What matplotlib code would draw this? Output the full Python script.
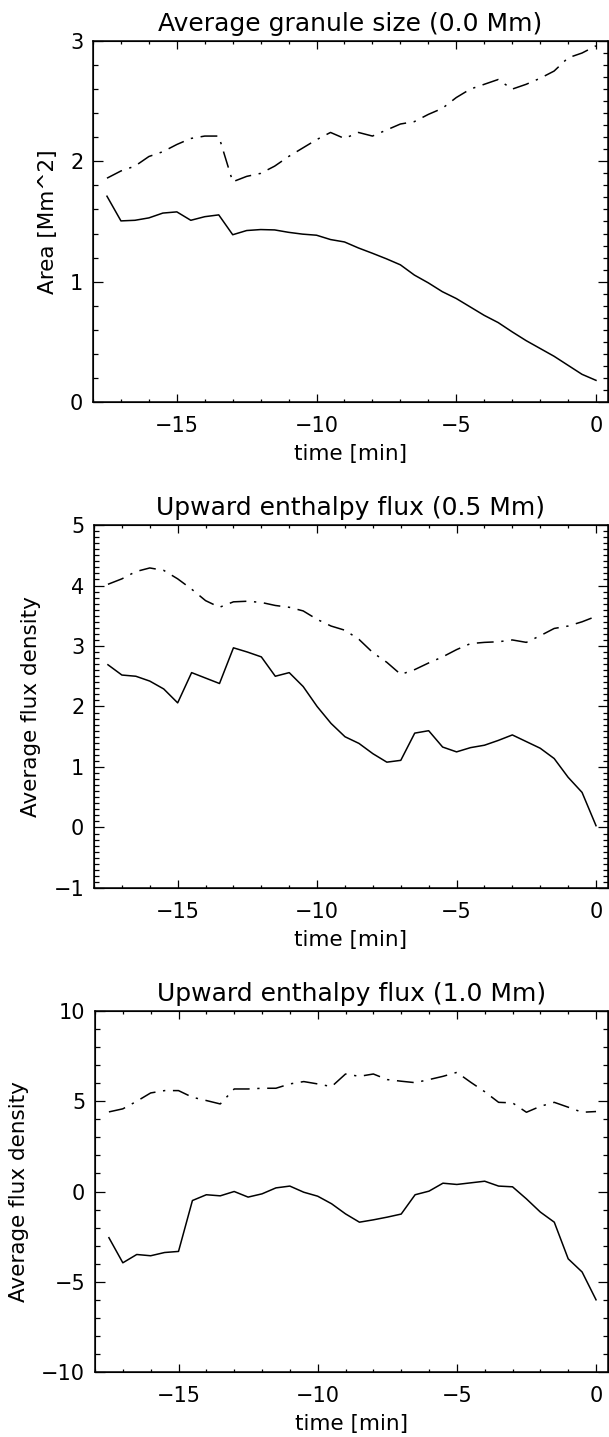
import matplotlib
matplotlib.use("Agg")
import matplotlib.pyplot as plt
from matplotlib.ticker import MultipleLocator

# time axis (minutes before the end)
time = [-17.5, -17.0, -16.5, -16.0, -15.5, -15.0, -14.5, -14.0, -13.5, -13.0,
        -12.5, -12.0, -11.5, -11.0, -10.5, -10.0, -9.5, -9.0, -8.5, -8.0,
        -7.5, -7.0, -6.5, -6.0, -5.5, -5.0, -4.5, -4.0, -3.5, -3.0,
        -2.5, -2.0, -1.5, -1.0, -0.5, 0.0]

# panel 1: average granule size
area_solid = [1.71, 1.505, 1.51, 1.53, 1.57, 1.58, 1.51, 1.54, 1.555, 1.39,
              1.425, 1.433, 1.43, 1.41, 1.395, 1.386, 1.35, 1.33, 1.28, 1.236,
              1.19, 1.14, 1.055, 0.99, 0.917, 0.86, 0.79, 0.72, 0.66, 0.583,
              0.51, 0.445, 0.38, 0.305, 0.23, 0.18]
area_dash = [1.86, 1.92, 1.96, 2.04, 2.08, 2.14, 2.19, 2.21, 2.21, 1.83,
             1.875, 1.90, 1.96, 2.04, 2.11, 2.18, 2.24, 2.19, 2.24, 2.21,
             2.26, 2.31, 2.33, 2.39, 2.44, 2.53, 2.60, 2.64, 2.68, 2.60,
             2.64, 2.69, 2.75, 2.86, 2.90, 2.96]

# panel 2: upward enthalpy flux at 0.5 Mm
flux05_solid = [2.69, 2.52, 2.50, 2.42, 2.29, 2.06, 2.56, 2.47, 2.38, 2.97,
                2.90, 2.82, 2.50, 2.56, 2.33, 2.00, 1.72, 1.50, 1.39, 1.22,
                1.08, 1.11, 1.56, 1.60, 1.33, 1.25, 1.32, 1.36, 1.44, 1.53,
                1.42, 1.31, 1.14, 0.83, 0.58, 0.03]
flux05_dash = [4.02, 4.11, 4.23, 4.29, 4.25, 4.11, 3.94, 3.75, 3.64, 3.73,
               3.74, 3.72, 3.67, 3.64, 3.58, 3.44, 3.33, 3.26, 3.11, 2.89,
               2.73, 2.53, 2.61, 2.72, 2.82, 2.94, 3.04, 3.06, 3.07, 3.10,
               3.06, 3.17, 3.29, 3.33, 3.40, 3.49]

# panel 3: upward enthalpy flux at 1.0 Mm
flux10_solid = [-2.56, -3.95, -3.49, -3.56, -3.38, -3.32, -0.50, -0.18, -0.24, 0.0,
                -0.31, -0.13, 0.20, 0.30, -0.04, -0.26, -0.68, -1.24, -1.70, -1.57,
                -1.42, -1.25, -0.18, 0.02, 0.46, 0.39, 0.48, 0.57, 0.30, 0.26,
                -0.41, -1.14, -1.70, -3.73, -4.46, -6.0]
flux10_dash = [4.41, 4.58, 5.00, 5.46, 5.59, 5.59, 5.22, 5.04, 4.85, 5.68,
               5.68, 5.72, 5.72, 5.96, 6.09, 5.96, 5.81, 6.51, 6.38, 6.51,
               6.20, 6.11, 6.03, 6.20, 6.38, 6.60, 6.05, 5.53, 4.94, 4.91,
               4.39, 4.72, 4.94, 4.67, 4.39, 4.43]

titles = ["Average granule size (0.0 Mm)",
          "Upward enthalpy flux (0.5 Mm)",
          "Upward enthalpy flux (1.0 Mm)"]
ylabels = ["Area [Mm^2]", "Average flux density", "Average flux density"]
ylims = [(0, 3), (-1, 5), (-10, 10)]
ymajor = [1, 1, 5]
yminor = [0.2, 0.1, 1]
yminor_right = [0.1, 0.1, 1]
solids = [area_solid, flux05_solid, flux10_solid]
dashes = [area_dash, flux05_dash, flux10_dash]

W, H = 609, 1437
plt.rcParams['font.family'] = 'DejaVu Sans'
fig = plt.figure(figsize=(W / 100, H / 100), dpi=100)

# axes boxes in pixels: left, right, top, bottom
boxes = [(93, 608, 41, 402), (94, 608, 525, 888), (95, 608, 1011, 1372)]
dashdot = (0, (11, 5, 1.5, 5))

for i in range(3):
    l, r, t, b = boxes[i]
    ax = fig.add_axes([l / W, 1 - b / H, (r - l) / W, (b - t) / H])
    ax.plot(time, solids[i], 'k-', lw=1.1)
    ax.plot(time, dashes[i], color='k', lw=1.1, linestyle=dashdot)
    ax.set_xlim(-18, 0.43)
    ax.set_ylim(*ylims[i])
    ax.xaxis.set_major_locator(MultipleLocator(5))
    ax.xaxis.set_minor_locator(MultipleLocator(1))
    ax.yaxis.set_major_locator(MultipleLocator(ymajor[i]))
    ax.yaxis.set_minor_locator(MultipleLocator(yminor[i]))
    ax.tick_params(which='both', direction='in', top=True, right=False,
                   width=0.9, labelsize=15)
    ax.tick_params(axis='x', which='major', length=5.5, pad=10)
    ax.tick_params(axis='x', which='minor', length=2.5)
    ax.tick_params(axis='y', which='major', length=7, pad=7)
    ax.tick_params(axis='y', which='minor', length=3.5)
    for s in ax.spines.values():
        s.set_linewidth(1.1)
    ax.set_title(titles[i], fontsize=18, pad=7)
    ax.set_xlabel("time [min]", fontsize=15.5, labelpad=6)
    ax.set_ylabel(ylabels[i], fontsize=15.5, labelpad=9)

    # right-hand axis carries its own (finer) tick marks
    rax = ax.twinx()
    rax.set_ylim(*ylims[i])
    rax.yaxis.set_major_locator(MultipleLocator(ymajor[i]))
    rax.yaxis.set_minor_locator(MultipleLocator(yminor_right[i]))
    rax.tick_params(which='both', direction='in', width=0.9, labelright=False)
    rax.tick_params(which='major', length=7)
    rax.tick_params(which='minor', length=3.5)

fig.savefig("out.png", dpi=100)
